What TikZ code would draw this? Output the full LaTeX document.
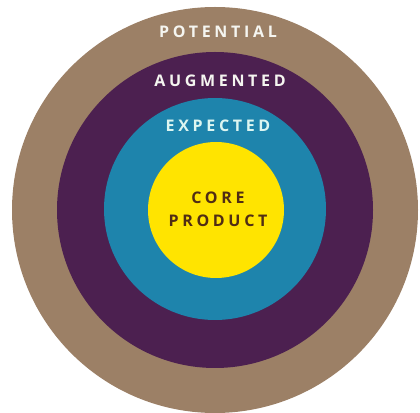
\documentclass[tikz,border=0pt]{standalone}
\usepackage{fontspec}
\newfontfamily\lblfont[LetterSpace=23]{Open Sans}
\newfontfamily\corefont[LetterSpace=23]{Open Sans}
\definecolor{ringbrown}{RGB}{156,128,102}
\definecolor{ringpurple}{RGB}{76,32,80}
\definecolor{ringblue}{RGB}{30,132,172}
\definecolor{coreyellow}{RGB}{255,228,0}
\definecolor{coretext}{RGB}{80,45,20}
\definecolor{lighttext}{RGB}{245,245,240}
\tikzset{
  ring/.style={circle, inner sep=0pt, draw=none},
  lbl/.style={font=\lblfont\bfseries\fontsize{16}{18}\selectfont, text=lighttext, inner sep=0pt, anchor=base},
  corelbl/.style={font=\corefont\bfseries\fontsize{16}{23}\selectfont, text=coretext, inner sep=0pt, align=center}
}
\begin{document}
\begin{tikzpicture}[x=1pt,y=1pt]
\useasboundingbox (0,0) rectangle (420,412);
\fill[white] (0,0) rectangle (420,412);
\node[ring, fill=ringbrown, minimum size=406pt] (potential) at (215,202) {};
\node[ring, fill=ringpurple, minimum size=316pt] (augmented) at (215,202) {};
\node[ring, fill=ringblue, minimum size=222pt] (expected) at (215,203) {};
\node[ring, fill=coreyellow, minimum size=136pt] (core) at (216,202) {};
\node[lbl] (tpot) at (218,374) {POTENTIAL};
\node[lbl] (taug) at (220,325) {AUGMENTED};
\node[lbl, text=lighttext!90!cyan] (texp) at (218,280) {EXPECTED};
\node[corelbl] (tcore) at (218,203) {CORE\\PRODUCT};
\end{tikzpicture}
\end{document}
